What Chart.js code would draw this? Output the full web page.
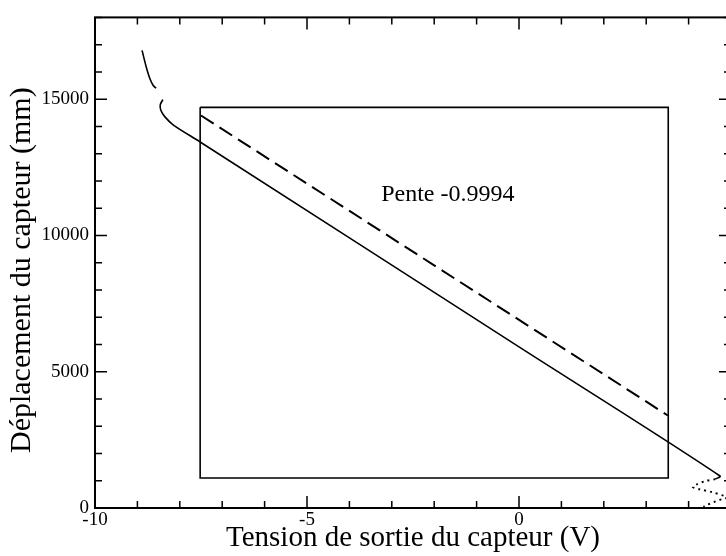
<!DOCTYPE html>
<html>
<head>
<meta charset="utf-8">
<script src="https://cdn.jsdelivr.net/npm/chart.js@4"></script>
<style>
    html, body { margin: 0; padding: 0; background: #fff; overflow: hidden; }
    #wrap { width: 740px; height: 556px; }
</style>
</head>
<body>
<div id="wrap"><canvas id="sensorChart" width="740" height="556"></canvas></div>
<script>
// Data
const topPieceX = [-8.89, -8.82, -8.77, -8.70, -8.63, -8.56];
const topPieceY = [16790, 16350, 16060, 15730, 15510, 15400];

const mainX = [-8.40, -8.46, -8.45, -8.35, -8.15, -7.52, 0, 4.74, 4.63];
const mainY = [14980, 14800, 14600, 14350, 14050, 13430, 5910, 1175, 1060];

const fitX = [-7.50, 3.51];
const fitY = [14400, 3395];

const boxX = [-7.52, 3.52, 3.52, -7.52, -7.52];
const boxY = [14700, 14700, 1100, 1100, 14700];

const tailX = [4.63, 4.40, 4.18, 4.10, 4.25, 4.55, 4.86, 5.05, 4.80, 4.60, 4.43, 4.35];
const tailY = [1060, 990, 860, 770, 690, 585, 440, 420, 330, 220, 110, 40];

const xMajorStep = 5;
const yMajorStep = 5000;
const slopeLabel = 'Pente -0.9994';
const slopeLabelPos = { x: -3.25, y: 11500 };

const toPoints = (xs, ys) => xs.map((x, i) => ({ x: x, y: ys[i] }));

const serif = '"Liberation Serif", "Times New Roman", serif';

// ticks pointing inward + frame
const framePlugin = {
    id: 'frame',
    afterDatasetsDraw(chart) {
        const ctx = chart.ctx;
        const { left, right, top, bottom } = chart.chartArea;
        const xs = chart.scales.x;
        const ys = chart.scales.y;
        ctx.save();
        ctx.strokeStyle = '#000';
        ctx.lineWidth = 2;
        ctx.strokeRect(left, top, right - left, bottom - top);
        ctx.lineWidth = 1.5;
        ctx.beginPath();
        xs.ticks.forEach(t => {
            const px = xs.getPixelForValue(t.value);
            const len = Math.abs(t.value % xMajorStep) < 1e-9 ? 12 : 7;
            ctx.moveTo(px, bottom);
            ctx.lineTo(px, bottom - len);
            ctx.moveTo(px, top);
            ctx.lineTo(px, top + len);
        });
        ys.ticks.forEach(t => {
            const py = ys.getPixelForValue(t.value);
            const len = Math.abs(t.value % yMajorStep) < 1e-9 ? 12 : 7;
            ctx.moveTo(left, py);
            ctx.lineTo(left + len, py);
            ctx.moveTo(right, py);
            ctx.lineTo(right - len, py);
        });
        ctx.stroke();

        ctx.fillStyle = '#000';
        ctx.font = '24px ' + serif;
        ctx.textAlign = 'left';
        ctx.textBaseline = 'middle';
        ctx.fillText(slopeLabel, xs.getPixelForValue(slopeLabelPos.x), ys.getPixelForValue(slopeLabelPos.y));
        ctx.restore();
    }
};

const ctx = document.getElementById('sensorChart').getContext('2d');
const sensorChart = new Chart(ctx, {
    type: 'line',
    data: {
        datasets: [{
            data: toPoints(topPieceX, topPieceY),
            borderColor: '#000',
            borderWidth: 1.6,
            tension: 0.3
        }, {
            data: toPoints(mainX, mainY),
            borderColor: '#000',
            borderWidth: 1.6,
            tension: 0.3
        }, {
            data: toPoints(fitX, fitY),
            borderColor: '#000',
            borderWidth: 2,
            borderDash: [15, 7],
            tension: 0
        }, {
            data: toPoints(boxX, boxY),
            borderColor: '#000',
            borderWidth: 1.6,
            tension: 0
        }, {
            data: toPoints(tailX, tailY),
            borderColor: '#000',
            borderWidth: 2,
            borderDash: [2, 4],
            tension: 0.3
        }]
    },
    options: {
        responsive: false,
        animation: false,
        devicePixelRatio: 1,
        layout: {
            padding: { left: 0, right: 9, top: 15, bottom: 0 }
        },
        elements: {
            point: { radius: 0, hoverRadius: 0 }
        },
        plugins: {
            legend: { display: false },
            tooltip: { enabled: false }
        },
        scales: {
            x: {
                type: 'linear',
                min: -10,
                max: 5,
                grid: { display: false, drawTicks: false },
                border: { display: false },
                ticks: {
                    stepSize: 1,
                    autoSkip: false,
                    maxRotation: 0,
                    padding: 1,
                    color: '#000',
                    font: { family: serif, size: 19 },
                    callback: v => (v % xMajorStep === 0 ? String(v) : '')
                },
                title: {
                    display: true,
                    text: 'Tension de sortie du capteur (V)',
                    color: '#000',
                    font: { family: serif, size: 29 },
                    padding: { top: 0, bottom: 0 }
                },
                afterFit(scale) { scale.height = 48; }
            },
            y: {
                type: 'linear',
                min: 0,
                max: 18000,
                grid: { display: false, drawTicks: false },
                border: { display: false },
                ticks: {
                    stepSize: 1000,
                    autoSkip: false,
                    padding: 6,
                    color: '#000',
                    font: { family: serif, size: 19 },
                    callback: v => (v % yMajorStep === 0 ? String(v) : '')
                },
                title: {
                    display: true,
                    text: 'Déplacement du capteur (mm)  ',
                    color: '#000',
                    font: { family: serif, size: 30 },
                    padding: { top: 4, bottom: 0 }
                },
                afterFit(scale) { scale.width = 95; }
            }
        }
    },
    plugins: [framePlugin]
});
</script>
</body>
</html>
